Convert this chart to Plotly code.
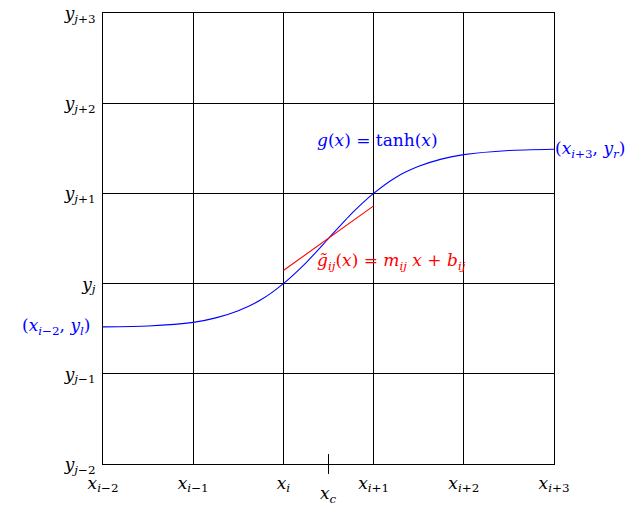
import plotly.graph_objects as go

# grid positions (cell units): x_{i-2} .. x_{i+3}, y_{j-2} .. y_{j+3}
x_ticks = [0, 1, 2, 3, 4, 5]
x_labels = ["<i>x</i><sub><i>i</i>−2</sub>", "<i>x</i><sub><i>i</i>−1</sub>", "<i>x</i><sub><i>i</i></sub>",
            "<i>x</i><sub><i>i</i>+1</sub>", "<i>x</i><sub><i>i</i>+2</sub>", "<i>x</i><sub><i>i</i>+3</sub>"]
y_ticks = [0, 1, 2, 3, 4, 5]
y_labels = ["<i>y</i><sub><i>j</i>−2</sub>", "<i>y</i><sub><i>j</i>−1</sub>", "<i>y</i><sub><i>j</i></sub>",
            "<i>y</i><sub><i>j</i>+1</sub>", "<i>y</i><sub><i>j</i>+2</sub>", "<i>y</i><sub><i>j</i>+3</sub>"]

# tanh curve
curve_x = [0, 0.5, 1, 1.25, 1.5, 1.75, 2, 2.25, 2.5, 2.75, 3, 3.25, 3.5, 3.75, 4, 4.5, 5]
curve_y = [1.52, 1.53, 1.57, 1.62, 1.70, 1.82, 2.00, 2.23, 2.50, 2.77, 3.00, 3.18, 3.30, 3.38, 3.43, 3.476, 3.49]

# linear approximation segment
lin_x = [2, 3]
lin_y = [2.145, 2.862]

x_c = 2.5

FONT = "DejaVu Serif"
FS = 17
BLUE = "#0000ff"
RED = "#ff0000"

fig = go.Figure()
fig.add_trace(go.Scatter(x=curve_x, y=curve_y, mode="lines",
                         line=dict(color=BLUE, width=1.1, shape="spline", smoothing=0.6),
                         hoverinfo="skip", cliponaxis=False))
fig.add_trace(go.Scatter(x=lin_x, y=lin_y, mode="lines",
                         line=dict(color=RED, width=1.1), hoverinfo="skip"))

axis_common = dict(range=[0, 5], showgrid=True, gridcolor="black", gridwidth=1,
                   zeroline=False, showline=True, linecolor="black", linewidth=1.2,
                   mirror=True, ticks="", tickfont=dict(family=FONT, size=FS, color="black"),
                   fixedrange=True, automargin=False)
fig.update_xaxes(tickvals=x_ticks, ticktext=x_labels, ticklabelstandoff=3, **axis_common)
fig.update_yaxes(tickvals=y_ticks, ticktext=y_labels, ticklabelstandoff=3, **axis_common)

# x_c tick mark and label
fig.add_shape(type="line", xref="x", yref="paper", x0=x_c, x1=x_c, y0=-0.022, y1=0.022,
              line=dict(color="black", width=1))
fig.add_annotation(x=x_c, xref="x", y=0, yref="paper", yanchor="middle", yshift=-30,
                   text="<i>x</i><sub><i>c</i></sub>",
                   showarrow=False, font=dict(family=FONT, size=FS, color="black"))

fig.add_annotation(x=3.04, y=3.59, text="<i>g</i>(<i>x</i>) = tanh(<i>x</i>)", showarrow=False,
                   font=dict(family=FONT, size=FS, color=BLUE))
fig.add_annotation(x=5, y=3.49, xanchor="left", xshift=-1, text="(<i>x</i><sub><i>i</i>+3</sub>, <i>y</i><sub><i>r</i></sub>)",
                   showarrow=False, font=dict(family=FONT, size=FS, color=BLUE))
fig.add_annotation(x=0, y=1.52, xanchor="right", xshift=-11, text="(<i>x</i><sub><i>i</i>−2</sub>, <i>y</i><sub><i>l</i></sub>)",
                   showarrow=False, font=dict(family=FONT, size=FS, color=BLUE))
fig.add_annotation(x=2.38, y=2.24, xanchor="left", xshift=-3, text="<i>g̃</i><sub><i>ij</i></sub>(<i>x</i>) = <i>m</i><sub><i>ij</i></sub> <i>x</i> + <i>b</i><sub><i>ij</i></sub>",
                   showarrow=False, font=dict(family=FONT, size=FS, color=RED))

fig.update_layout(width=639, height=507, margin=dict(l=103, r=85, t=13, b=43, autoexpand=False),
                  paper_bgcolor="white", plot_bgcolor="white", showlegend=False)

fig.write_html("out.html")
